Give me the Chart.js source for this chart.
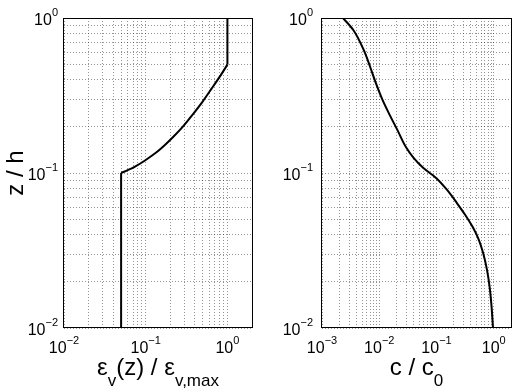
<!DOCTYPE html>
<html><head><meta charset="utf-8">
<script src="https://cdn.jsdelivr.net/npm/chart.js@4"></script>
<style>
html,body{margin:0;padding:0;background:#fff;width:513px;height:392px;overflow:hidden}
canvas{position:absolute;top:0}
</style></head><body>
<canvas id="c1" width="256" height="392" style="left:0px"></canvas>
<canvas id="c2" width="257" height="392" style="left:256px"></canvas>
<script>
// ---- data ----
const leftStemZ   = [0.01, 0.1];
const leftStemEps = [0.05, 0.05];
const leftCurveZ   = [0.1, 0.105, 0.11, 0.12, 0.135, 0.15, 0.17, 0.2, 0.24, 0.29, 0.35, 0.42, 0.5];
const leftCurveEps = [0.05, 0.062, 0.074, 0.097, 0.133, 0.168, 0.215, 0.287, 0.38, 0.5, 0.64, 0.81, 1.0];
const leftTopZ   = [0.5, 1];
const leftTopEps = [1, 1];

const rightZ = [1, 0.837, 0.622, 0.476, 0.381, 0.296, 0.237, 0.189, 0.147, 0.125, 0.108, 0.093, 0.0777, 0.064, 0.0536, 0.0448, 0.0375, 0.0305, 0.0237, 0.0184, 0.0139, 0.01];
const rightC = [0.00233, 0.00352, 0.00535, 0.00704, 0.0087, 0.0114, 0.0152, 0.0208, 0.0292, 0.0398, 0.0583, 0.0984, 0.153, 0.227, 0.318, 0.429, 0.542, 0.652, 0.762, 0.846, 0.913, 0.97];

// ---- tick labels (decade exponents) ----
const leftXDecades  = [-2, -1, 0];
const rightXDecades = [-3, -2, -1, 0];
const yDecades      = [-2, -1, 0];

const FONT = '"Liberation Sans", Arial, Helvetica, sans-serif';

function gridValues(min, max) {
  const out = [];
  for (let e = Math.floor(Math.log10(min)); e <= Math.ceil(Math.log10(max)); e++) {
    for (let m = 1; m <= 9; m++) {
      const v = +(m * Math.pow(10, e)).toPrecision(6);
      if (v >= min - 1e-12 && v <= max + 1e-12) out.push(v);
    }
  }
  return out;
}
function pts(xs, ys) { return xs.map((x, i) => ({x: x, y: ys[i]})); }

const overlay = {
  id: 'overlay',
  afterDraw(chart, args, o) {
    const {ctx, chartArea: a} = chart;
    const xs = chart.scales.x, ys = chart.scales.y;
    ctx.save();
    ctx.setLineDash([]);
    ctx.strokeStyle = '#000';
    ctx.lineWidth = 1;
    ctx.strokeRect(Math.round(a.left) - 0.5, Math.round(a.top) + 0.5,
                   Math.round(a.right - a.left) + 1, Math.round(a.bottom - a.top) - 1);
    ctx.fillStyle = '#000';
    ctx.textBaseline = 'alphabetic';
    ctx.textAlign = 'left';
    const big = '16px ' + FONT, small = '11px ' + FONT;
    function measure(t, f) { ctx.font = f; return ctx.measureText(t).width; }
    // x tick labels
    o.xDecades.forEach(e => {
      const px = xs.getPixelForValue(Math.pow(10, e));
      const ex = String(e).replace('-', '\u2212');
      const w1 = measure('10', big), w2 = measure(ex, small);
      const x0 = px - (w1 + w2) / 2;
      ctx.font = big; ctx.fillText('10', x0, a.bottom + 25);
      ctx.font = small; ctx.fillText(ex, x0 + w1, a.bottom + 15.5);
    });
    // y tick labels
    o.yDecades.forEach(e => {
      const py = ys.getPixelForValue(Math.pow(10, e));
      const ex = String(e).replace('-', '\u2212');
      const w1 = measure('10', big), w2 = measure(ex, small);
      const x0 = a.left - o.yGap - (w1 + w2);
      ctx.font = big; ctx.fillText('10', x0, py + 7);
      ctx.font = small; ctx.fillText(ex, x0 + w1, py - 2.5);
    });
    // x title with subscripts
    let total = 0;
    o.xTitle.forEach(p => { total += measure(p[0], p[1] ? '17px ' + FONT : '24px ' + FONT); });
    let cx = (a.left + a.right) / 2 - total / 2;
    o.xTitle.forEach(p => {
      const f = p[1] ? '17px ' + FONT : '24px ' + FONT;
      ctx.font = f;
      ctx.fillText(p[0], cx, p[1] ? 386 : 375);
      cx += ctx.measureText(p[0]).width;
    });
    // y title
    if (o.yTitle) {
      ctx.font = '24px ' + FONT;
      ctx.translate(23, (a.top + a.bottom) / 2);
      ctx.rotate(-Math.PI / 2);
      ctx.textAlign = 'center';
      ctx.fillText(o.yTitle, 0, 0);
    }
    ctx.restore();
  }
};

function axis(min, max) {
  const gv = gridValues(min, max);
  return {
    type: 'logarithmic', min: min, max: max,
    ticks: {display: false},
    grid: {color: 'rgba(0,0,0,0.42)', lineWidth: 1, drawTicks: false, tickLength: 0},
    border: {display: false, dash: [1, 2]},
    afterBuildTicks: s => { s.ticks = gv.map(v => ({value: v})); }
  };
}

function makeChart(id, datasets, xMin, xMax, pad, overlayOpts) {
  return new Chart(document.getElementById(id), {
    type: 'scatter',
    data: {datasets: datasets},
    options: {
      responsive: false, animation: false, devicePixelRatio: 1,
      layout: {padding: pad},
      scales: {x: axis(xMin, xMax), y: axis(0.01, 1)},
      plugins: {legend: {display: false}, tooltip: {enabled: false}, overlay: overlayOpts},
      elements: {point: {radius: 0}}
    },
    plugins: [overlay]
  });
}

const lineStyle = {showLine: true, borderColor: '#000', borderWidth: 2, pointRadius: 0, fill: false};

makeChart('c1', [
  Object.assign({data: pts(leftStemEps, leftStemZ), tension: 0}, lineStyle),
  Object.assign({data: pts(leftCurveEps, leftCurveZ), tension: 0.3}, lineStyle),
  Object.assign({data: pts(leftTopEps, leftTopZ), tension: 0}, lineStyle)
], 0.01, 2, {left: 64, right: 4, top: 18, bottom: 64}, {
  xDecades: leftXDecades, yDecades: yDecades, yGap: 6,
  xTitle: [['\u03b5', 0], ['v', 1], ['(z) / \u03b5', 0], ['v,max', 1]],
  yTitle: 'z / h'
});

makeChart('c2', [
  Object.assign({data: pts(rightC, rightZ), indexAxis: 'y', cubicInterpolationMode: 'monotone'}, lineStyle)
], 0.001, 2, {left: 66, right: 2, top: 18, bottom: 64}, {
  xDecades: rightXDecades, yDecades: yDecades, yGap: 9,
  xTitle: [['c / c', 0], ['0', 1]],
  yTitle: null
});
</script>
</body></html>
